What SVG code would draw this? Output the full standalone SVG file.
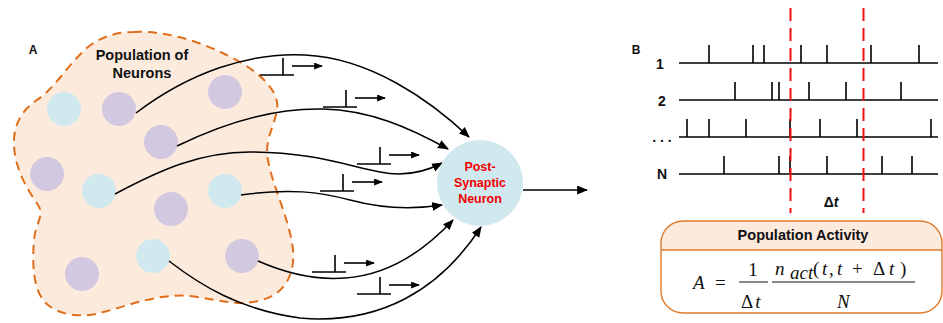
<svg xmlns="http://www.w3.org/2000/svg" width="943" height="323" viewBox="0 0 943 323">
  <style>
    .lbl { font-family: "Liberation Sans", Arial, sans-serif; font-weight: bold; fill: #111; }
    .red { fill: #f00000; }
    .cyan { fill: #d0e9ee; }
    .purple { fill: #d2c8df; }
    .wire { fill: none; stroke: #000; stroke-width: 1.5; marker-end: url(#head); }
    .train { stroke: #000; stroke-width: 1.6; fill: none; }
    .win { stroke: #f01010; stroke-width: 2; stroke-dasharray: 13 7; fill: none; }
    .math { font-family: "Liberation Serif", "Times New Roman", serif; font-size: 19px; fill: #111; }
    .it { font-style: italic; }
  </style>
  <defs>
    <marker id="head" viewBox="0 0 10 8" refX="9" refY="4" markerWidth="11" markerHeight="9" markerUnits="userSpaceOnUse" orient="auto">
      <path d="M0,0 L10,4 L0,8 Z" fill="#000"/>
    </marker>
    <marker id="smallhead" viewBox="0 0 10 8" refX="9" refY="4" markerWidth="9" markerHeight="7" markerUnits="userSpaceOnUse" orient="auto">
      <path d="M0,0 L10,4 L0,8 Z" fill="#000"/>
    </marker>
    <!-- synapse glyph: terminal bar, stem, and direction arrow -->
    <g id="syn">
      <path d="M0,0 H34 M23,0 V-17" stroke="#000" stroke-width="1.6" fill="none"/>
      <path d="M32,-9 H62" stroke="#000" stroke-width="1.6" fill="none" marker-end="url(#smallhead)"/>
    </g>
  </defs>

  <!-- Panel A -->
  <text class="lbl" x="33" y="54" font-size="12" text-anchor="middle">A</text>

  <g id="population">
    <path d="M133,32 C170,30 210,45 240,62 C262,75 280,92 277,110 C274,128 264,140 268,160 C272,185 290,220 293,250 C295,275 285,295 258,301 C235,306 220,300 190,296 C160,293 130,305 100,313 C80,318 60,315 48,305 C33,293 32,265 34,240 C35,225 45,215 38,205 C28,190 15,170 14,145 C13,125 22,110 37,100 C55,88 70,62 88,47 C102,36 118,32 133,32 Z"
          fill="#fcebdd" stroke="#df6f1c" stroke-width="2" stroke-dasharray="9 6"/>
    <text class="lbl" x="142" y="60" font-size="14.5" text-anchor="middle">Population of</text>
    <text class="lbl" x="142" y="78" font-size="14.5" text-anchor="middle">Neurons</text>
  </g>

  <g id="neurons">
    <circle id="n1" class="cyan" cx="64" cy="109" r="17"/>
    <circle id="n2" class="purple" cx="119" cy="109" r="17"/>
    <circle id="n3" class="purple" cx="225" cy="92" r="17"/>
    <circle id="n4" class="purple" cx="161" cy="142" r="17"/>
    <circle id="n5" class="purple" cx="47" cy="174" r="17"/>
    <circle id="n6" class="cyan" cx="99" cy="191" r="17"/>
    <circle id="n7" class="purple" cx="171" cy="209" r="17"/>
    <circle id="n8" class="cyan" cx="225" cy="191" r="17"/>
    <circle id="n9" class="cyan" cx="153" cy="256" r="17"/>
    <circle id="n10" class="purple" cx="242" cy="256" r="17"/>
    <circle id="n11" class="purple" cx="82" cy="274" r="17"/>
  </g>

  <g id="connectors">
    <path class="wire" d="M136,113 C190,72 250,52 305,55 C370,58 430,100 469,137"/>
    <path class="wire" d="M177,146 C230,120 280,108 323,109 C370,110 410,128 448,149"/>
    <path class="wire" d="M115,194 C160,170 200,152 250,152 C310,152 345,165 380,172 C405,177 425,172 442,163"/>
    <path class="wire" d="M241,195 C290,188 320,192 350,200 C380,208 410,210 442,205"/>
    <path class="wire" d="M258,261 C290,275 320,280 345,278 C390,275 425,250 453,220"/>
    <path class="wire" d="M169,261 C200,285 240,310 300,318 C380,325 440,290 481,227"/>
    <path class="wire" d="M523,190 H587"/>
  </g>

  <g id="synapses">
    <use href="#syn" x="260" y="75"/>
    <use href="#syn" x="323" y="107"/>
    <use href="#syn" x="357" y="164"/>
    <use href="#syn" x="320" y="191"/>
    <use href="#syn" x="312" y="272"/>
    <use href="#syn" x="357" y="294"/>
  </g>

  <g id="post-synaptic">
    <circle class="cyan" cx="480" cy="183" r="43"/>
    <text class="lbl red" x="480" y="171" font-size="12.5" text-anchor="middle">Post-</text>
    <text class="lbl red" x="480" y="187" font-size="12.5" text-anchor="middle">Synaptic</text>
    <text class="lbl red" x="480" y="203" font-size="12.5" text-anchor="middle">Neuron</text>
  </g>

  <!-- Panel B -->
  <text class="lbl" x="636" y="54" font-size="12" text-anchor="middle">B</text>

  <g id="spike-trains">
    <text class="lbl" x="660" y="69" font-size="14" text-anchor="middle">1</text>
    <text class="lbl" x="662" y="106" font-size="14" text-anchor="middle">2</text>
    <text class="lbl" x="662" y="142" font-size="14" text-anchor="middle">. . .</text>
    <text class="lbl" x="662" y="179" font-size="14" text-anchor="middle">N</text>
    <path class="train" d="M679,63 H938 M709,63 V45 M753,63 V45 M764,63 V45 M801,63 V45 M827,63 V45 M871,63 V45 M919,63 V45"/>
    <path class="train" d="M679,100 H938 M735,100 V82 M772,100 V82 M779,100 V82 M809,100 V82 M846,100 V82 M901,100 V82"/>
    <path class="train" d="M679,137 H938 M687,137 V119 M709,137 V119 M746,137 V119 M790,137 V119 M820,137 V119 M857,137 V119 M931,137 V119"/>
    <path class="train" d="M679,174 H938 M724,174 V156 M779,174 V156 M790,174 V156 M827,174 V156 M882,174 V156 M912,174 V156"/>
  </g>

  <g id="window">
    <path class="win" d="M790.5,8 V213 M863.5,8 V213"/>
    <text class="lbl" x="831" y="207" font-size="14" text-anchor="middle">Δ<tspan font-style="italic">t</tspan></text>
  </g>

  <g id="population-activity">
    <path d="M661,250 V243 A22,22 0 0 1 683,221 H920 A22,22 0 0 1 942,243 V250 Z" fill="#fcebdd"/>
    <rect x="661" y="221" width="281" height="92" rx="22" ry="22" fill="none" stroke="#df7a2a" stroke-width="1.4"/>
    <line x1="661" y1="250" x2="942" y2="250" stroke="#df7a2a" stroke-width="1.4"/>
    <text class="lbl" x="803" y="240" font-size="14.5" text-anchor="middle">Population Activity</text>

    <text class="math it" x="693" y="289">A</text>
    <text class="math" x="715" y="289">=</text>
    <line x1="739" y1="282" x2="768" y2="282" stroke="#111" stroke-width="1"/>
    <text class="math" x="753" y="276" text-anchor="middle">1</text>
    <text class="math" x="741" y="308">Δ<tspan class="it" dx="2">t</tspan></text>
    <line x1="772" y1="282" x2="915" y2="282" stroke="#111" stroke-width="1"/>
    <text class="math it" x="775" y="275">n</text>
    <text class="math it" x="790" y="279" font-size="10">act</text>
    <text class="math" x="813" y="275">(</text>
    <text class="math it" x="822" y="275">t</text>
    <text class="math" x="829" y="275">,</text>
    <text class="math it" x="837" y="275">t</text>
    <text class="math" x="852" y="275">+</text>
    <text class="math" x="873" y="275">Δ</text>
    <text class="math it" x="889" y="275">t</text>
    <text class="math" x="900" y="275">)</text>
    <text class="math it" x="837" y="308">N</text>
  </g>
</svg>
